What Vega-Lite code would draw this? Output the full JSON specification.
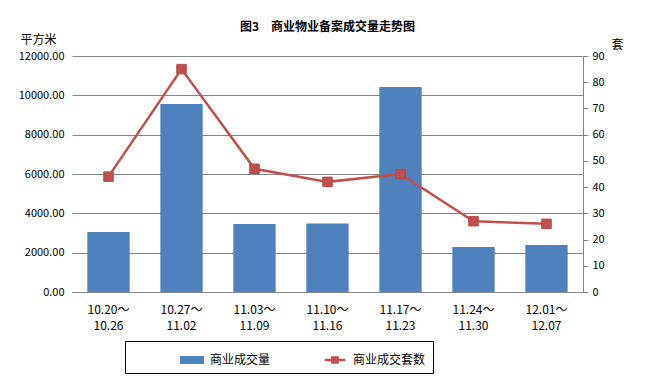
{
  "$schema": "https://vega.github.io/schema/vega-lite/v6.json",
  "autosize": "none",
  "width": 511,
  "height": 236,
  "padding": {"left": 72, "top": 56, "right": 67, "bottom": 94},
  "background": "white",
  "config": {
    "view": {"stroke": null},
    "font": "Noto Sans CJK SC",
    "axis": {"labelFont": "Noto Sans CJK SC", "titleFont": "Noto Sans CJK SC", "labelColor": "#000000", "titleColor": "#000000", "labelFontSize": 11, "titleFontWeight": "normal"}
  },
  "title": {"text": "图3　商业物业备案成交量走势图", "fontSize": 12, "fontWeight": "bold", "font": "Noto Sans CJK SC", "color": "#000000", "offset": -1, "anchor": "middle"},
  "data": {
    "values": [
      {"week": "10.20～|10.26", "area": 3050, "count": 44},
      {"week": "10.27～|11.02", "area": 9560, "count": 85},
      {"week": "11.03～|11.09", "area": 3460, "count": 47},
      {"week": "11.10～|11.16", "area": 3480, "count": 42},
      {"week": "11.17～|11.23", "area": 10420, "count": 45},
      {"week": "11.24～|11.30", "area": 2290, "count": 27},
      {"week": "12.01～|12.07", "area": 2390, "count": 26}
    ]
  },
  "encoding": {
    "x": {
      "field": "week", "type": "nominal", "sort": null,
      "scale": {"paddingInner": 0.42, "paddingOuter": 0.21},
      "axis": {"title": null, "labelAngle": 0, "labelExpr": "split(datum.label, '|')", "labelFontSize": 12, "labelLineHeight": 16, "labelPadding": 12, "ticks": false, "domainColor": "#868686", "labelColor": "#000000"}
    }
  },
  "layer": [
    {
      "mark": {"type": "bar"},
      "encoding": {
        "y": {
          "field": "area", "type": "quantitative",
          "scale": {"domain": [0, 12000]},
          "axis": {"title": "平方米", "titleAngle": 0, "titleX": -34, "titleY": -17, "titleAlign": "center", "titleBaseline": "middle", "titleFontSize": 12, "format": ".2f", "values": [0, 2000, 4000, 6000, 8000, 10000, 12000], "grid": true, "gridColor": "#868686", "domain": false, "ticks": false, "labelPadding": 8, "labelFontSize": 11}
        },
        "color": {
          "datum": "商业成交量",
          "scale": {"domain": ["商业成交量", "商业成交套数"], "range": ["#4F81BD", "#C0504D"]},
          "legend": {
            "title": null, "orient": "none", "legendX": 53, "legendY": 285, "direction": "horizontal",
            "strokeColor": "#000000", "padding": 7, "labelFontSize": 12, "labelFont": "Noto Sans CJK SC", "labelColor": "#000000",
            "symbolSize": 576, "symbolStrokeWidth": 0, "symbolOffset": 48, "columnPadding": 4, "labelOffset": 6,
            "labelExpr": "datum.label == '商业成交套数' ? datum.label + '　　　　' : datum.label",
            "encode": {
              "symbols": {"update": {"shape": {"signal": "datum.value == '商业成交量' ? 'M-1,-0.33H1V0.33H-1Z' : 'M-0.85,-0.11H0.85V0.11H-0.85Z M-0.32,-0.32H0.32V0.32H-0.32Z'"}, "strokeWidth": {"value": 0}}}
            }
          }
        }
      }
    },
    {
      "mark": {"type": "line", "strokeWidth": 2.5, "point": {"shape": "square", "size": 90, "filled": true, "stroke": "#B54845", "strokeWidth": 1}},
      "encoding": {
        "y": {
          "field": "count", "type": "quantitative",
          "scale": {"domain": [0, 90]},
          "axis": {"title": "套", "orient": "right", "titleAngle": 0, "titleX": 34, "titleY": -12, "titleAlign": "center", "titleBaseline": "middle", "titleFontSize": 12, "values": [0, 10, 20, 30, 40, 50, 60, 70, 80, 90], "grid": false, "domainColor": "#868686", "tickColor": "#868686", "tickSize": 5, "labelPadding": 4, "labelFontSize": 11}
        },
        "color": {"datum": "商业成交套数"}
      }
    }
  ],
  "resolve": {"scale": {"y": "independent"}}
}
